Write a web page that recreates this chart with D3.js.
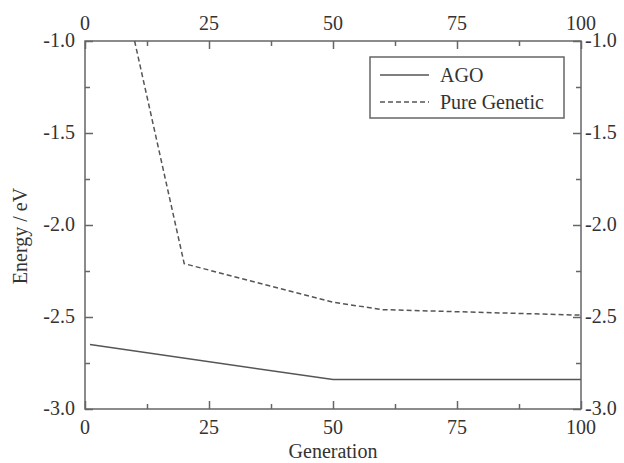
<!DOCTYPE html>
<html>
<head>
<meta charset="utf-8">
<script src="https://cdn.jsdelivr.net/npm/d3@7"></script>
<style>
  body { margin: 0; background: #fff; }
</style>
</head>
<body>
<div id="chart"></div>
<script>
// series
var agoGen = [1, 50, 100];
var agoEnergy = [-2.65, -2.84, -2.84];
var pureGen = [10, 20, 50, 60, 100];
var pureEnergy = [-1.0, -2.21, -2.42, -2.46, -2.49];

var xTicks = [0, 25, 50, 75, 100];
var xMinor = [12.5, 37.5, 62.5, 87.5];
var yTicks = [-1.0, -1.5, -2.0, -2.5, -3.0];
var yMinor = [-1.25, -1.75, -2.25, -2.75];

var width = 624, height = 463;
var margin = {top: 41, right: 43, bottom: 54, left: 85};
var fontFam = "'Liberation Serif', 'Times New Roman', Times, 'DejaVu Serif', serif";

var svg = d3.select("#chart").append("svg")
    .attr("width", width)
    .attr("height", height)
    .attr("font-family", fontFam);

var x = d3.scaleLinear().domain([0, 100]).range([margin.left, width - margin.right]);
var y = d3.scaleLinear().domain([-3.0, -1.0]).range([height - margin.bottom, margin.top]);

var axisColor = "#666";
var lineColor = "#555";
var textColor = "#333";

// frame
svg.append("rect")
    .attr("x", x(0)).attr("y", y(-1))
    .attr("width", x(100) - x(0)).attr("height", y(-3) - y(-1))
    .attr("fill", "none").attr("stroke", axisColor).attr("stroke-width", 1.5);

// ticks all point inward
function drawAxis(axis, transform, ticks, minor) {
    var g = svg.append("g").attr("transform", transform)
        .call(axis.tickValues(ticks).tickSizeInner(-8).tickSizeOuter(0).tickFormat(""));
    g.select(".domain").remove();
    g.selectAll("line").attr("stroke", axisColor).attr("stroke-width", 1.5);
    var g2 = svg.append("g").attr("transform", transform)
        .call(axis.tickValues(minor).tickSizeInner(-5).tickSizeOuter(0).tickFormat(""));
    g2.select(".domain").remove();
    g2.selectAll("line").attr("stroke", axisColor).attr("stroke-width", 1.5);
}
drawAxis(d3.axisBottom(x), "translate(0," + y(-3) + ")", xTicks, xMinor);
drawAxis(d3.axisTop(x), "translate(0," + y(-1) + ")", xTicks, xMinor);
drawAxis(d3.axisLeft(y), "translate(" + x(0) + ",0)", yTicks, yMinor);
drawAxis(d3.axisRight(y), "translate(" + x(100) + ",0)", yTicks, yMinor);

var fs = 20;
var fmtY = d3.format(".1f");

function label(sel) {
    return sel.attr("font-size", fs).attr("font-family", fontFam).attr("fill", textColor);
}

// tick labels
label(svg.selectAll(".xb").data(xTicks).enter().append("text"))
    .attr("x", function(d) { return x(d); })
    .attr("y", y(-3) + 25)
    .attr("text-anchor", "middle")
    .text(function(d) { return d; });
label(svg.selectAll(".xt").data(xTicks).enter().append("text"))
    .attr("x", function(d) { return x(d); })
    .attr("y", y(-1) - 11)
    .attr("text-anchor", "middle")
    .text(function(d) { return d; });
label(svg.selectAll(".yl").data(yTicks).enter().append("text"))
    .attr("x", x(0) - 10)
    .attr("y", function(d) { return y(d) + 6; })
    .attr("text-anchor", "end")
    .text(function(d) { return fmtY(d).replace("−", "-"); });
label(svg.selectAll(".yr").data(yTicks).enter().append("text"))
    .attr("x", x(100) + 4)
    .attr("y", function(d) { return y(d) + 6; })
    .attr("text-anchor", "start")
    .text(function(d) { return fmtY(d).replace("−", "-"); });

// axis titles
label(svg.append("text"))
    .attr("x", (x(0) + x(100)) / 2)
    .attr("y", height - 5)
    .attr("text-anchor", "middle")
    .text("Generation");
label(svg.append("text"))
    .attr("transform", "translate(27," + 236 + ") rotate(-90)")
    .attr("text-anchor", "middle")
    .text("Energy / eV");

// lines
var line = d3.line()
    .x(function(d) { return x(d[0]); })
    .y(function(d) { return y(d[1]); });

svg.append("path")
    .datum(d3.zip(agoGen, agoEnergy))
    .attr("d", line)
    .attr("fill", "none").attr("stroke", lineColor).attr("stroke-width", 1.5);

svg.append("path")
    .datum(d3.zip(pureGen, pureEnergy))
    .attr("d", line)
    .attr("fill", "none").attr("stroke", lineColor).attr("stroke-width", 1.5)
    .attr("stroke-dasharray", "5,3");

// legend
var legend = svg.append("g");
legend.append("rect")
    .attr("x", 370).attr("y", 57)
    .attr("width", 194).attr("height", 61)
    .attr("fill", "#fff").attr("stroke", axisColor).attr("stroke-width", 1.5);
var items = [{name: "AGO", dash: null}, {name: "Pure Genetic", dash: "5,3"}];
items.forEach(function(it, i) {
    var ly = 75 + i * 27;
    legend.append("line")
        .attr("x1", 380).attr("x2", 429)
        .attr("y1", ly).attr("y2", ly)
        .attr("stroke", lineColor).attr("stroke-width", 1.5)
        .attr("stroke-dasharray", it.dash);
    label(legend.append("text"))
        .attr("x", 440).attr("y", ly + 7)
        .text(it.name);
});
</script>
</body>
</html>
